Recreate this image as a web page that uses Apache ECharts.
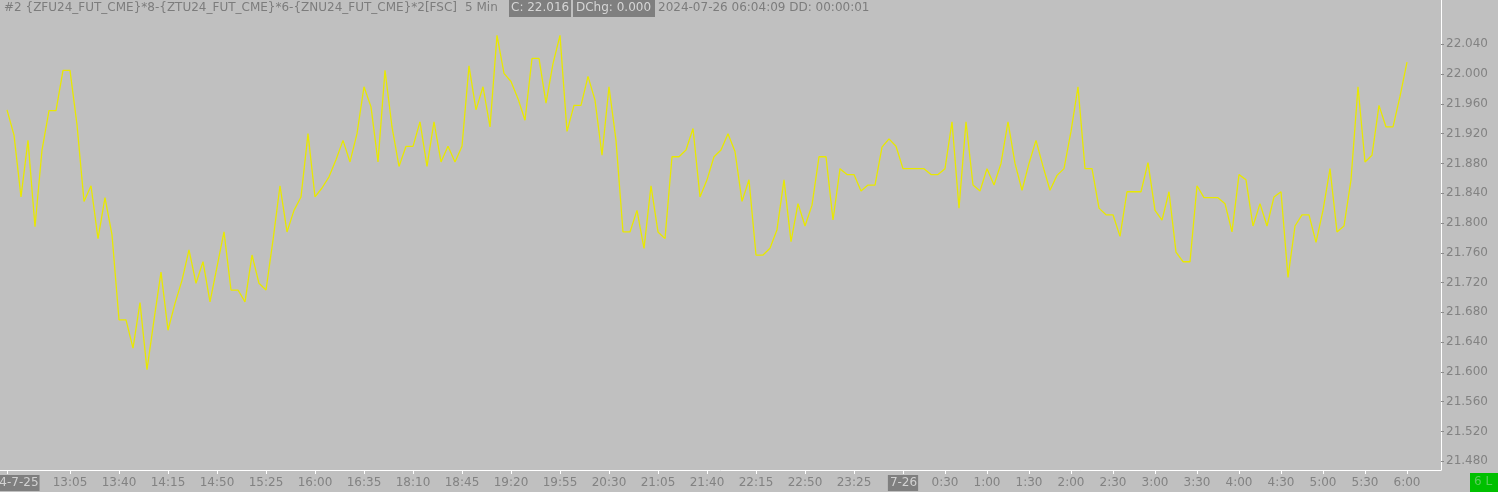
<!DOCTYPE html>
<html><head><meta charset="utf-8">
<script src="https://cdn.jsdelivr.net/npm/echarts@6/dist/echarts.min.js"></script>
<style>html,body{margin:0;padding:0;background:#c0c0c0;}#c{width:1498px;height:492px;}</style>
</head><body><div id="c"></div>
<script>
// Price of the spread, one value per 5-minute bar (12:20 on 7-25 ... 06:00 on 7-26)
const values = [
 21.952, 21.918, 21.835, 21.911, 21.795, 21.898, 21.951, 21.951, 22.005, 22.005,
 21.932, 21.829, 21.850, 21.779, 21.834, 21.784, 21.670, 21.670, 21.632, 21.693,
 21.603, 21.670, 21.734, 21.656, 21.692, 21.723, 21.764, 21.719, 21.748, 21.694,
 21.741, 21.788, 21.710, 21.710, 21.694, 21.757, 21.719, 21.710, 21.777, 21.850,
 21.788, 21.817, 21.835, 21.920, 21.835, 21.847, 21.862, 21.885, 21.911, 21.882,
 21.920, 21.983, 21.956, 21.882, 22.005, 21.929, 21.876, 21.903, 21.903, 21.936,
 21.876, 21.936, 21.882, 21.903, 21.882, 21.903, 22.011, 21.952, 21.983, 21.929,
 22.052, 22.001, 21.990, 21.967, 21.938, 22.021, 22.021, 21.961, 22.014, 22.052,
 21.923, 21.958, 21.958, 21.997, 21.965, 21.891, 21.983, 21.911, 21.788, 21.788,
 21.817, 21.766, 21.850, 21.788, 21.779, 21.889, 21.889, 21.898, 21.927, 21.835,
 21.858, 21.889, 21.898, 21.920, 21.896, 21.829, 21.858, 21.757, 21.757, 21.766,
 21.791, 21.858, 21.775, 21.826, 21.796, 21.824, 21.889, 21.889, 21.804, 21.873,
 21.865, 21.865, 21.843, 21.851, 21.851, 21.902, 21.913, 21.903, 21.873, 21.873,
 21.873, 21.873, 21.865, 21.865, 21.873, 21.936, 21.820, 21.936, 21.851, 21.843,
 21.873, 21.851, 21.880, 21.936, 21.880, 21.844, 21.880, 21.911, 21.876, 21.844,
 21.864, 21.873, 21.923, 21.983, 21.873, 21.873, 21.820, 21.811, 21.811, 21.782,
 21.842, 21.842, 21.842, 21.881, 21.817, 21.804, 21.842, 21.761, 21.748, 21.748,
 21.850, 21.834, 21.834, 21.834, 21.826, 21.788, 21.865, 21.858, 21.796, 21.826,
 21.796, 21.835, 21.842, 21.727, 21.796, 21.811, 21.811, 21.774, 21.817, 21.873,
 21.788, 21.796, 21.858, 21.983, 21.882, 21.891, 21.958, 21.929, 21.929, 21.970,
 22.016
];
// bar index of each x-axis tick and its label
const tickIndex = [0, 9, 16, 23, 30, 37, 44, 51, 58, 65, 72, 79, 86, 93, 100, 107, 114, 121,
  128, 134, 140, 146, 152, 158, 164, 170, 176, 182, 188, 194, 200];
const tickLabels = ['2024-7-25', '13:05', '13:40', '14:15', '14:50', '15:25', '16:00', '16:35',
  '18:10', '18:45', '19:20', '19:55', '20:30', '21:05', '21:40', '22:15', '22:50', '23:25',
  '7-26', '0:30', '1:00', '1:30', '2:00', '2:30', '3:00', '3:30', '4:00', '4:30', '5:00',
  '5:30', '6:00'];
const dateLabels = ['2024-7-25', '7-26'];
const yTicks = [21.48, 21.52, 21.56, 21.60, 21.64, 21.68, 21.72, 21.76, 21.80, 21.84,
  21.88, 21.92, 21.96, 22.00, 22.04];
const headerTitle = '#2 {ZFU24_FUT_CME}*8-{ZTU24_FUT_CME}*6-{ZNU24_FUT_CME}*2[FSC]';
const headerPeriod = '5 Min';
const headerClose = 'C: 22.016';
const headerChg = 'DChg: 0.000';
const headerTime = '2024-07-26 06:04:09 DD: 00:00:01';
const cornerText = '6 L';

const FONT = '"DejaVu Sans", "Noto Sans", sans-serif';
const chart = echarts.init(document.getElementById('c'), null, {renderer: 'canvas'});
const last = values[values.length - 1];

chart.setOption({
  backgroundColor: '#c0c0c0',
  animation: false,
  grid: {left: 0, right: 57, top: 0, bottom: 22, containLabel: false, outerBoundsMode: 'none'},
  xAxis: {
    type: 'value',
    min: -1,
    max: 204.857,
    axisLine: {show: true, onZero: false, lineStyle: {color: '#ffffff', width: 1}},
    axisTick: {show: true, customValues: tickIndex, length: 4, lineStyle: {color: '#ffffff'}},
    splitLine: {show: false},
    axisLabel: {
      customValues: tickIndex,
      margin: 6,
      color: '#828282',
      fontFamily: FONT,
      fontSize: 12,
      lineHeight: 14,
      formatter: function (v) {
        const k = tickIndex.indexOf(Math.round(v));
        if (k < 0) return '';
        const t = tickLabels[k];
        return dateLabels.indexOf(t) >= 0 ? '{d|' + t + '}' : t;
      },
      rich: {
        d: {backgroundColor: '#7f7f7f', color: '#d2d2d2', fontFamily: FONT, fontSize: 12,
            lineHeight: 14, padding: [2, 1, 2, 2]}
      }
    }
  },
  yAxis: {
    type: 'value',
    position: 'right',
    min: 21.4683,
    max: 22.0995,
    axisLine: {show: true, onZero: false, lineStyle: {color: '#ffffff', width: 1}},
    axisTick: {show: true, customValues: yTicks, length: 3, lineStyle: {color: '#8a8a8a'}},
    splitLine: {show: false},
    axisLabel: {
      customValues: yTicks,
      margin: 5,
      color: '#828282',
      fontFamily: FONT,
      fontSize: 12,
      formatter: function (v) { return v.toFixed(3); }
    }
  },
  series: [{
    type: 'line',
    data: values.map(function (v, i) { return [i, v]; }),
    showSymbol: false,
    symbol: 'none',
    lineStyle: {color: '#e8e800', width: 1.3},
    clip: false,
    markLine: {
      silent: true,
      symbol: 'none',
      lineStyle: {opacity: 0},
      data: [{yAxis: last}],
      label: {
        show: true,
        position: 'end',
        distance: 3,
        formatter: function (p) { return Number(p.value).toFixed(3); },
        backgroundColor: '#ffffff',
        color: '#000000',
        fontFamily: FONT,
        fontSize: 12,
        lineHeight: 14,
        padding: [1, 3, 0, 2]
      }
    }
  }],
  graphic: [
    {type: 'text', left: 4, top: 2, style: {text: headerTitle, fill: '#7c7c7c', font: '12px ' + FONT}},
    {type: 'text', left: 465, top: 2, style: {text: headerPeriod, fill: '#7c7c7c', font: '12px ' + FONT}},
    {type: 'rect', left: 509, top: 0, shape: {width: 62, height: 17}, style: {fill: '#7f7f7f'}},
    {type: 'text', left: 511, top: 2, style: {text: headerClose, fill: '#d6d6d6', font: '12px ' + FONT}},
    {type: 'rect', left: 573, top: 0, shape: {width: 82, height: 17}, style: {fill: '#7f7f7f'}},
    {type: 'text', left: 576, top: 2, style: {text: headerChg, fill: '#d6d6d6', font: '12px ' + FONT}},
    {type: 'text', left: 658, top: 2, style: {text: headerTime, fill: '#7c7c7c', font: '12px ' + FONT}},
    {type: 'rect', left: 1470, top: 473, shape: {width: 28, height: 19}, style: {fill: '#00c000'}},
    {type: 'text', left: 1474, top: 476, style: {text: cornerText, fill: '#5ccc5c', font: '12px ' + FONT}}
  ]
});
</script>
</body></html>
